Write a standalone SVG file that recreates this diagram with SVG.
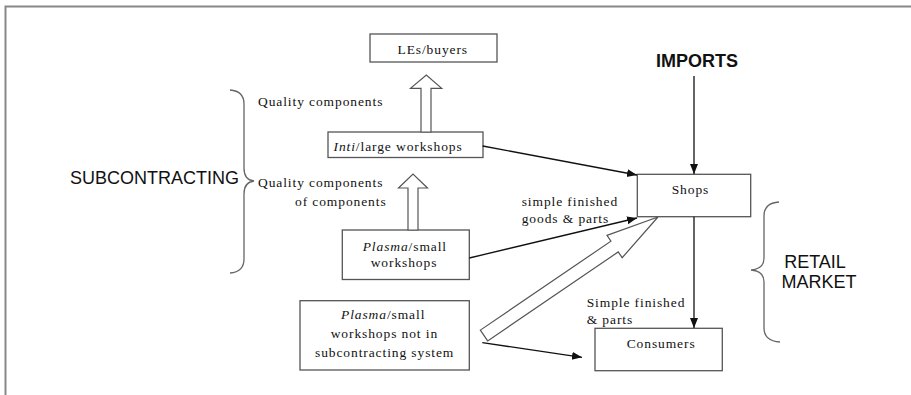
<svg xmlns="http://www.w3.org/2000/svg" width="911" height="395" viewBox="0 0 911 395">
<defs>
<style>
.box{fill:#fff;stroke:#555;stroke-width:1.3}
.t{font-family:"Liberation Serif","Times New Roman",serif;font-size:13.5px;letter-spacing:0.9px;fill:#111}
.big{font-family:"Liberation Sans",Arial,sans-serif;font-size:18px;fill:#111}
.line{fill:none;stroke:#111;stroke-width:1.3}
.hollow{fill:#fff;stroke:#555;stroke-width:1.2}
.brace{fill:none;stroke:#666;stroke-width:1.3}
</style>
<marker id="ah" markerUnits="userSpaceOnUse" markerWidth="11" markerHeight="9" refX="10" refY="4" orient="auto">
<path d="M0,0 L10,4 L0,8 z" fill="#111"/>
</marker>
</defs>
<rect width="911" height="395" fill="#fff"/>
<path d="M5.5,395 V6.5 H911" fill="none" stroke="#888" stroke-width="2"/>

<g id="subcontracting-label">
<text class="big" x="70" y="183.5">SUBCONTRACTING</text>
<path class="brace" d="M230,90 Q244,91 244,104 V168 Q244,180 254,181 Q244,182 244,194 V259 Q244,272 230,273"/>
</g>
<g id="retail-label">
<text class="big" x="815" y="267.5" text-anchor="middle">RETAIL</text>
<text class="big" x="819" y="287.5" text-anchor="middle">MARKET</text>
<path class="brace" d="M779,202 Q764,203 764,216 V258 Q764,269 751,270 Q764,271 764,282 V328 Q764,341 780,342"/>
</g>
<g id="imports">
<text class="big" x="697" y="66.5" text-anchor="middle" font-weight="bold">IMPORTS</text>
</g>

<g id="les-buyers">
<rect class="box" x="370" y="34" width="127" height="28"/>
<text class="t" x="397.5" y="54">LEs/buyers</text>
</g>
<g id="inti">
<rect class="box" x="328" y="132" width="155" height="25.5"/>
<text class="t" x="333.5" y="150.5"><tspan font-style="italic">Inti</tspan>/large workshops</text>
</g>
<g id="plasma-small">
<rect class="box" x="342.3" y="230" width="127" height="49.5"/>
<text class="t" x="362.7" y="250.5"><tspan font-style="italic">Plasma</tspan>/small</text>
<text class="t" x="370.7" y="267.3">workshops</text>
</g>
<g id="plasma-not">
<rect class="box" x="300" y="300.7" width="169.3" height="69.3"/>
<text class="t" x="341" y="319.3"><tspan font-style="italic">Plasma</tspan>/small</text>
<text class="t" x="330.7" y="337.7">workshops not in</text>
<text class="t" x="315" y="356.5">subcontracting system</text>
</g>
<g id="shops">
<rect class="box" x="637.3" y="174.3" width="113.4" height="42.4"/>
<text class="t" x="671.7" y="194">Shops</text>
</g>
<g id="consumers">
<rect class="box" x="595" y="328.3" width="127.3" height="42.4"/>
<text class="t" x="626.7" y="348.3">Consumers</text>
</g>

<g id="labels">
<text class="t" x="258" y="106">Quality components</text>
<text class="t" x="258" y="187">Quality components</text>
<text class="t" x="295" y="205.5">of components</text>
<text class="t" x="521.7" y="205.5">simple finished</text>
<text class="t" x="521.7" y="223">goods &amp; parts</text>
<text class="t" x="586.7" y="306.7">Simple finished</text>
<text class="t" x="586.7" y="324">&amp; parts</text>
</g>

<g id="connectors">
<line class="line" x1="482.7" y1="146" x2="637" y2="175" marker-end="url(#ah)"/>
<line class="line" x1="469.3" y1="258" x2="637" y2="218" marker-end="url(#ah)"/>
<line class="line" x1="694" y1="76" x2="694" y2="174" marker-end="url(#ah)"/>
<line class="line" x1="694" y1="216.7" x2="694" y2="328" marker-end="url(#ah)"/>
<line class="line" x1="482.3" y1="342.7" x2="582" y2="357.3" marker-end="url(#ah)"/>
<polygon class="hollow" points="421,132 421,88.3 410.5,88.3 426.3,75 441.7,88.3 431,88.3 431,132"/>
<polygon class="hollow" points="408,230 408,188 398.5,188 413,174 427.5,188 418,188 418,230"/>
<g transform="translate(484,335.5) rotate(-34.26)">
<polygon class="hollow" points="0,-6.5 158,-6.5 158,-13.5 210.5,0 158,13.5 158,6.5 0,6.5"/>
</g>
</g>
</svg>
